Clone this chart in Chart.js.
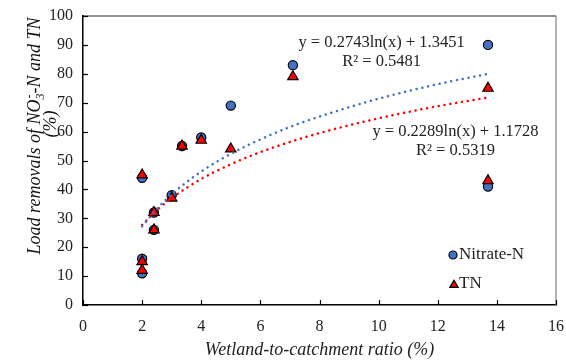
<!DOCTYPE html>
<html>
<head>
<meta charset="utf-8">
<script src="https://cdn.jsdelivr.net/npm/chart.js@4.4.1/dist/chart.umd.min.js"></script>
<style>
  body { margin: 0; background: #fff; }
  canvas { display: block; }
</style>
</head>
<body>
<canvas id="chart" width="566" height="361"></canvas>
<script>
// data
const ratioX   = [2, 2, 2, 2.4, 2.4, 3, 3.35, 4, 5, 7.1, 13.7, 13.7];
const nitrateY = [44, 16, 11, 32, 26, 38, 55, 58, 69, 83, 90, 41];
const tnY      = [45, 15, 12, 32, 26, 37, 55, 57, 54, 79, 75, 43];

// fitted log curves as drawn (dotted)
const fitX        = [2, 2.5, 3, 4, 5, 6, 7, 8, 10, 12, 13.7];
const nitrateFitY = [27.2, 33.3, 38.3, 46.2, 52.3, 57.3, 61.6, 65.2, 71.4, 76.4, 80.0];
const tnFitY      = [27.7, 32.8, 37.0, 43.6, 48.7, 52.9, 56.4, 59.5, 64.6, 68.8, 71.8];

const xTicks = [0, 2, 4, 6, 8, 10, 12, 14, 16];
const yTicks = [0, 10, 20, 30, 40, 50, 60, 70, 80, 90, 100];

const fitLabels = [
  { x: 10.1, y: 90.8, text: 'y = 0.2743ln(x) + 1.3451' },
  { x: 10.1, y: 84.2, text: 'R² = 0.5481' },
  { x: 12.6, y: 59.9, text: 'y = 0.2289ln(x) + 1.1728' },
  { x: 12.6, y: 53.3, text: 'R² = 0.5319' }
];

const BLUE = '#4472C4';
const RED = '#FF0000';
const FONT = '"Liberation Serif", "Times New Roman", serif';

const pts = (xs, ys) => xs.map((x, i) => ({ x: x, y: ys[i] }));

const extras = {
  id: 'extras',
  afterDraw(chart) {
    const ctx = chart.ctx;
    const a = chart.chartArea;
    const xs = chart.scales.x, ys = chart.scales.y;
    ctx.save();

    // plot frame top / right
    ctx.lineWidth = 1.2;
    ctx.strokeStyle = '#222';
    ctx.beginPath(); ctx.moveTo(a.left, a.top); ctx.lineTo(a.right, a.top); ctx.stroke();
    ctx.strokeStyle = '#808080';
    ctx.beginPath(); ctx.moveTo(a.right, a.top); ctx.lineTo(a.right, a.bottom); ctx.stroke();

    // inward tick marks
    ctx.strokeStyle = '#000';
    ctx.lineWidth = 1.2;
    xs.ticks.forEach(t => {
      const px = Math.round(xs.getPixelForValue(t.value)) + 0.5;
      ctx.beginPath(); ctx.moveTo(px, a.bottom); ctx.lineTo(px, a.bottom - 5); ctx.stroke();
    });
    ys.ticks.forEach(t => {
      const py = Math.round(ys.getPixelForValue(t.value)) + 0.5;
      ctx.beginPath(); ctx.moveTo(a.left, py); ctx.lineTo(a.left + 5, py); ctx.stroke();
    });

    // equation labels
    ctx.fillStyle = '#222';
    ctx.font = '16.5px ' + FONT;
    ctx.textAlign = 'center';
    ctx.textBaseline = 'middle';
    fitLabels.forEach(l => {
      ctx.fillText(l.text, xs.getPixelForValue(l.x), ys.getPixelForValue(l.y));
    });

    // legend inside plot
    ctx.textAlign = 'left';
    ctx.font = '17px ' + FONT;
    ctx.lineWidth = 1.2;
    ctx.strokeStyle = '#000';
    ctx.fillStyle = BLUE;
    ctx.beginPath(); ctx.arc(453, 255, 4, 0, Math.PI * 2); ctx.fill(); ctx.stroke();
    ctx.fillStyle = RED;
    const tr = 4.8, tx = 454, ty = 285;
    ctx.beginPath();
    ctx.moveTo(tx, ty - tr);
    ctx.lineTo(tx + tr * Math.sin(2 * Math.PI / 3), ty + tr / 2);
    ctx.lineTo(tx - tr * Math.sin(2 * Math.PI / 3), ty + tr / 2);
    ctx.closePath(); ctx.fill(); ctx.stroke();
    ctx.fillStyle = '#222';
    ctx.fillText('Nitrate-N', 459, 255);
    ctx.fillText('TN', 459, 284);

    // y axis title (rotated, with NO3- sub/superscript)
    const big = 'italic 18px ' + FONT;
    const small = 'italic 12px ' + FONT;
    const s1 = 'Load removals of NO', s2 = '-N and TN';
    ctx.font = big;
    const w1 = ctx.measureText(s1).width;
    const w2 = ctx.measureText(s2).width;
    ctx.font = small;
    const wScript = Math.max(ctx.measureText('3').width, ctx.measureText('-').width);
    const total = w1 + wScript + w2;
    ctx.translate(34, 136);
    ctx.rotate(-Math.PI / 2);
    ctx.fillStyle = '#111';
    ctx.textAlign = 'left';
    ctx.textBaseline = 'alphabetic';
    let cx = -total / 2;
    ctx.font = big;
    ctx.fillText(s1, cx, 6);
    cx += w1;
    ctx.font = small;
    ctx.fillText('3', cx, 10);
    ctx.fillText('-', cx + 1, -1);
    cx += wScript;
    ctx.font = big;
    ctx.fillText(s2, cx, 6);
    ctx.textAlign = 'center';
    ctx.fillText('(%)', 12, 22);

    ctx.restore();
  }
};

new Chart(document.getElementById('chart'), {
  type: 'scatter',
  data: {
    datasets: [
      {
        label: 'Nitrate-N fit',
        data: pts(fitX, nitrateFitY),
        showLine: true,
        cubicInterpolationMode: 'monotone',
        borderColor: BLUE,
        borderWidth: 2.5,
        borderDash: [0.1, 5.8],
        borderCapStyle: 'round',
        pointRadius: 0,
        order: 0
      },
      {
        label: 'TN fit',
        data: pts(fitX, tnFitY),
        showLine: true,
        cubicInterpolationMode: 'monotone',
        borderColor: RED,
        borderWidth: 2.5,
        borderDash: [0.1, 5.8],
        borderCapStyle: 'round',
        pointRadius: 0,
        order: 1
      },
      {
        label: 'TN',
        data: pts(ratioX, tnY),
        pointStyle: 'triangle',
        pointRadius: 6,
        backgroundColor: RED,
        borderColor: '#000',
        borderWidth: 1.2,
        order: 2
      },
      {
        label: 'Nitrate-N',
        data: pts(ratioX, nitrateY),
        pointStyle: 'circle',
        pointRadius: 4.6,
        backgroundColor: BLUE,
        borderColor: '#000',
        borderWidth: 1.2,
        order: 3
      }
    ]
  },
  options: {
    responsive: false,
    animation: false,
    layout: { padding: { left: 0, right: 10, top: 16, bottom: 0 } },
    plugins: {
      legend: { display: false },
      tooltip: { enabled: false }
    },
    scales: {
      x: {
        type: 'linear',
        min: 0, max: 16,
        afterBuildTicks: s => { s.ticks = xTicks.map(v => ({ value: v })); },
        afterFit: s => { s.height = 56; s.paddingLeft = 0; s.paddingRight = 0; },
        grid: { display: false, drawTicks: false },
        border: { display: true, color: '#000', width: 1.5 },
        ticks: { color: '#222', padding: 12, font: { family: FONT, size: 16 } },
        title: {
          display: true,
          text: 'Wetland-to-catchment ratio (%)',
          color: '#222',
          padding: { top: 0, bottom: 0 },
          font: { family: FONT, size: 18, style: 'italic' }
        }
      },
      y: {
        type: 'linear',
        min: 0, max: 100,
        afterBuildTicks: s => { s.ticks = yTicks.map(v => ({ value: v })); },
        afterFit: s => { s.width = 83; s.paddingTop = 0; s.paddingBottom = 0; },
        grid: { display: false, drawTicks: false },
        border: { display: true, color: '#000', width: 1.5 },
        ticks: { color: '#222', padding: 10, font: { family: FONT, size: 16 } }
      }
    }
  },
  plugins: [extras]
});
</script>
</body>
</html>
